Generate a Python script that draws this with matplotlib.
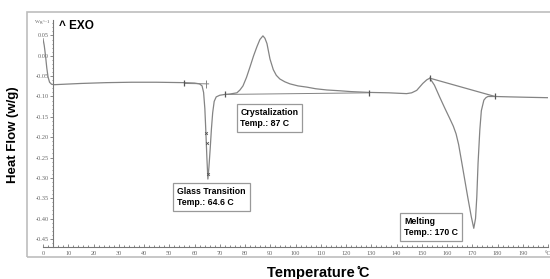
import matplotlib.pyplot as plt
from matplotlib.patches import Rectangle
from matplotlib.ticker import MultipleLocator

# DSC trace: temperature (C) and heat flow (W/g)
temp = [0.0, 0.5, 1.0, 1.5, 2.0, 2.6, 3.4, 4.5, 8, 15, 25, 35, 45, 56, 60, 62,
        63.0, 63.6, 64.1, 64.5, 64.9, 65.3, 65.7, 66.2, 66.7, 67.2, 67.8, 68.6,
        70, 72, 74, 76.8, 78.0, 79.2, 80.6, 82.0, 83.4, 84.7, 85.9, 87.1, 87.9,
        88.7, 89.9, 91.2, 92.4, 93.8, 95.8, 97.8, 101, 104.5, 108, 112.4, 117.6,
        122, 129, 137, 144, 146, 148, 150.4, 152, 153.2, 155, 157, 159, 161,
        162.5, 163.6, 164.6, 165.9, 168.2, 169.6, 170.6, 171.3, 171.8, 172.3,
        173.0, 173.6, 174.6, 175.4, 176.2, 179, 185, 192, 200]
heat_flow = [0.042, 0.025, 0.0, -0.03, -0.052, -0.065, -0.070, -0.071, -0.070,
             -0.068, -0.066, -0.065, -0.065, -0.066, -0.067, -0.069,
             -0.074, -0.090, -0.130, -0.187, -0.250, -0.303, -0.275, -0.230,
             -0.180, -0.140, -0.112, -0.101, -0.097, -0.095, -0.094, -0.091,
             -0.084, -0.074, -0.053, -0.027, 0.000, 0.022, 0.040, 0.049, 0.043,
             0.030, -0.008, -0.034, -0.048, -0.057, -0.064, -0.069, -0.074,
             -0.077, -0.081, -0.084, -0.086, -0.088, -0.090, -0.091, -0.093,
             -0.091, -0.085, -0.068, -0.059, -0.055, -0.072, -0.100, -0.127,
             -0.153, -0.173, -0.192, -0.218, -0.264, -0.347, -0.395, -0.424,
             -0.400, -0.347, -0.264, -0.182, -0.135, -0.109, -0.103, -0.100,
             -0.100, -0.101, -0.102, -0.103]

# analysis marks placed by the instrument software
mark_t = [56, 72, 129, 153.2, 179]
mark_v = [-0.066, -0.095, -0.091, -0.055, -0.100]
cross_t = [64.5, 64.9, 65.4]
cross_v = [-0.190, -0.215, -0.290]
melt_base_t = [153.2, 179]
melt_base_v = [-0.055, -0.100]
cryst_base_t = [72, 129]
cryst_base_v = [-0.095, -0.091]
tg_tan_t = [56, 65.6]
tg_tan_v = [-0.068, -0.069]

xticks = list(range(0, 201, 10))
xticklabels = [str(t) for t in xticks[:-1]] + ['\u00b0C']
yticks = [0.05, 0.0, -0.05, -0.10, -0.15, -0.20, -0.25, -0.30, -0.35, -0.40, -0.45]

notes = [
    ('Crystalization\nTemp.: 87 C', 78.2, -0.153),
    ('Glass Transition\nTemp.: 64.6 C', 53.2, -0.347),
    ('Melting\nTemp.: 170 C', 143.1, -0.420),
]

plt.rcParams['font.family'] = ['Liberation Sans', 'DejaVu Sans']

fig = plt.figure(figsize=(5.5, 2.79), dpi=100)
W, H = 550, 279
fig.patches.append(Rectangle((27 / W, 1 - 257 / H), 524 / W, 245 / H,
                             transform=fig.transFigure, fill=False,
                             ec='#bdbdbd', lw=1.2))
ax = fig.add_axes([43 / W, 1 - 247 / H, 505 / W, 227 / H])
ax.patch.set_alpha(0)

line_c = '#848484'
ax.plot(temp, heat_flow, c=line_c, lw=0.9)
ax.plot(cryst_base_t, cryst_base_v, c=line_c, lw=0.7)
ax.plot(melt_base_t, melt_base_v, c=line_c, lw=0.9)
ax.plot(tg_tan_t, tg_tan_v, c=line_c, lw=0.7)
ax.plot(mark_t, mark_v, ls='none', marker='|', ms=5, mew=0.9, c='#555555')
ax.plot([64.6], [-0.069], ls='none', marker='|', ms=6, mew=0.7, c=line_c)
ax.plot(cross_t, cross_v, ls='none', marker='x', ms=2, mew=0.6, c='#555555')

ax.set_xlim(0, 200)
ax.set_ylim(-0.47, 0.088)
for s in ['top', 'right']:
    ax.spines[s].set_visible(False)
ax.spines['left'].set_position(('data', 4))
ax.spines['left'].set_color('#777777')
ax.spines['bottom'].set_color('#777777')
ax.spines['left'].set_linewidth(0.8)
ax.spines['bottom'].set_linewidth(0.8)

ax.set_xticks(xticks)
ax.set_xticklabels(xticklabels)
ax.xaxis.set_minor_locator(MultipleLocator(2))
ax.set_yticks(yticks)
ax.set_yticklabels(['%.2f' % v for v in yticks])
ax.yaxis.set_minor_locator(MultipleLocator(0.01))
ax.tick_params(axis='both', which='both', colors='#777777', labelsize=4.5,
               labelcolor='#666666', width=0.6)
ax.tick_params(axis='x', which='major', direction='in', length=2.5, pad=3)
ax.tick_params(axis='x', which='minor', direction='in', length=1.5)
ax.tick_params(axis='y', which='major', direction='out', length=2, pad=1)
ax.tick_params(axis='y', which='minor', direction='out', length=1)
for lab in ax.get_xticklabels() + ax.get_yticklabels():
    lab.set_family(['Liberation Serif', 'DejaVu Serif'])

ax.text(2.6, 0.084, 'Wg^-1', fontsize=3.8, color='#666666', ha='right',
        va='center', family=['Liberation Serif', 'DejaVu Serif'])
ax.text(6.5, 0.074, '^ EXO', fontsize=8.5, fontweight='bold', va='center')

for txt, x, y in notes:
    ax.text(x, y, txt, fontsize=6.3, fontweight='bold', va='center', ha='left',
            linespacing=1.3,
            bbox=dict(boxstyle='square,pad=0.45', fc='white', ec='#999999', lw=0.9))

fig.text(13 / W, 1 - 135 / H, 'Heat Flow (w/g)', rotation=90, fontsize=9.5,
         fontweight='bold', ha='center', va='center')
fig.text(318 / W, 1 - 273 / H, 'Temperature \u030aC', fontsize=10.5,
         fontweight='bold', ha='center', va='center')

fig.savefig('out.png', dpi=100)
